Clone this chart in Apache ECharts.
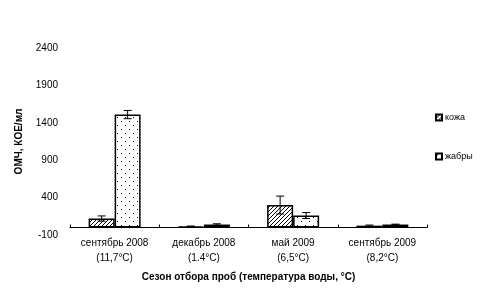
<!DOCTYPE html>
<html><head><meta charset="utf-8">
<script src="https://cdn.jsdelivr.net/npm/echarts@6/dist/echarts.min.js"></script>
<style>html,body{margin:0;padding:0;background:#fff}#c{width:485px;height:290px}</style>
</head><body><div id="c"></div>
<script>
var categories = ['сентябрь 2008\n(11,7°С)', 'декабрь 2008\n(1.4°С)', 'май 2009\n(6,5°С)', 'сентябрь 2009\n(8,2°С)'];
var seriesNames = ['кожа', 'жабры'];
var skinValues = [120, 15, 300, 25];
var skinErrors = [35, 5, 120, 8];
var gillValues = [1510, 40, 160, 40];
var gillErrors = [55, 10, 40, 5];
var yTicks = [-100, 400, 900, 1400, 1900, 2400];

function hatch() {
  var c = document.createElement('canvas'); c.width = 4; c.height = 4;
  var g = c.getContext('2d'); g.fillStyle = '#fff'; g.fillRect(0,0,4,4);
  g.strokeStyle = '#000'; g.lineWidth = 1;
  g.beginPath(); g.moveTo(0,4); g.lineTo(4,0); g.stroke();
  return c;
}
function dots() {
  var c = document.createElement('canvas'); c.width = 8; c.height = 8;
  var g = c.getContext('2d'); g.fillStyle = '#fff'; g.fillRect(0,0,8,8);
  g.fillStyle = '#000'; g.fillRect(1,1,1,1); g.fillRect(5,5,1,1);
  return c;
}
var pHatch = {image: hatch(), repeat: 'repeat'};
var pDots = {image: dots(), repeat: 'repeat'};

function errData(vals, errs) {
  return vals.map(function (v, i) { return [i, v - errs[i], v + errs[i]]; });
}
function errSeries(vals, errs, off) {
  return {
    type: 'custom', silent: true, z: 5,
    data: errData(vals, errs),
    renderItem: function (params, api) {
      var i = api.value(0);
      var lo = api.coord([i, api.value(1)]);
      var hi = api.coord([i, api.value(2)]);
      var x = lo[0] + off, w = 4;
      return {type: 'group', children: [
        {type: 'line', shape: {x1: x, y1: lo[1], x2: x, y2: hi[1]}, style: {stroke: '#000', lineWidth: 1}},
        {type: 'line', shape: {x1: x - w, y1: lo[1], x2: x + w, y2: lo[1]}, style: {stroke: '#000', lineWidth: 1}},
        {type: 'line', shape: {x1: x - w, y1: hi[1], x2: x + w, y2: hi[1]}, style: {stroke: '#000', lineWidth: 1}}
      ]};
    }
  };
}
var font = 'Liberation Sans, Arial, sans-serif';
var chart = echarts.init(document.getElementById('c'), null, {renderer: 'canvas'});
chart.setOption({
  animation: false,
  textStyle: {fontFamily: font, color: '#000'},
  grid: {left: 70, right: 58, top: 48, bottom: 55, containLabel: false, outerBoundsMode: 'none'},
  legend: {
    orient: 'vertical', left: 430, top: 108, itemGap: 30, itemWidth: 6, itemHeight: 6, icon: 'rect',
    textStyle: {fontSize: 9, color: '#000', fontFamily: font, padding: [0, 0, 0, -2]},
    data: seriesNames
  },
  xAxis: {
    type: 'category', data: categories,
    name: 'Сезон отбора проб (температура воды, °С)', nameLocation: 'middle', nameGap: 37,
    nameTextStyle: {fontSize: 10, fontWeight: 'bold', color: '#000'},
    axisLine: {onZero: true, lineStyle: {color: '#000', width: 1}},
    axisTick: {show: true, inside: true, length: 3, lineStyle: {color: '#000'}},
    axisLabel: {fontSize: 10, color: '#000', lineHeight: 15, margin: 1}
  },
  yAxis: {
    type: 'value', min: -100, max: 2400, interval: 500,
    name: 'ОМЧ, КОЕ/мл', nameLocation: 'middle', nameGap: 46,
    nameTextStyle: {fontSize: 10, fontWeight: 'bold', color: '#000'},
    axisLine: {show: false}, axisTick: {show: false}, splitLine: {show: false},
    axisLabel: {fontSize: 10, color: '#000', margin: 12, formatter: function (v) { return String(v); }}
  },
  series: [
    {name: seriesNames[0], type: 'bar', data: skinValues, barWidth: 26, barGap: '0%',
     itemStyle: {color: pHatch, borderColor: '#000', borderWidth: 1.5}},
    {name: seriesNames[1], type: 'bar', data: gillValues, barWidth: 26, barGap: '0%',
     itemStyle: {color: pDots, borderColor: '#000', borderWidth: 1.5}},
    errSeries(skinValues, skinErrors, -13),
    errSeries(gillValues, gillErrors, 13)
  ]
});
</script></body></html>
